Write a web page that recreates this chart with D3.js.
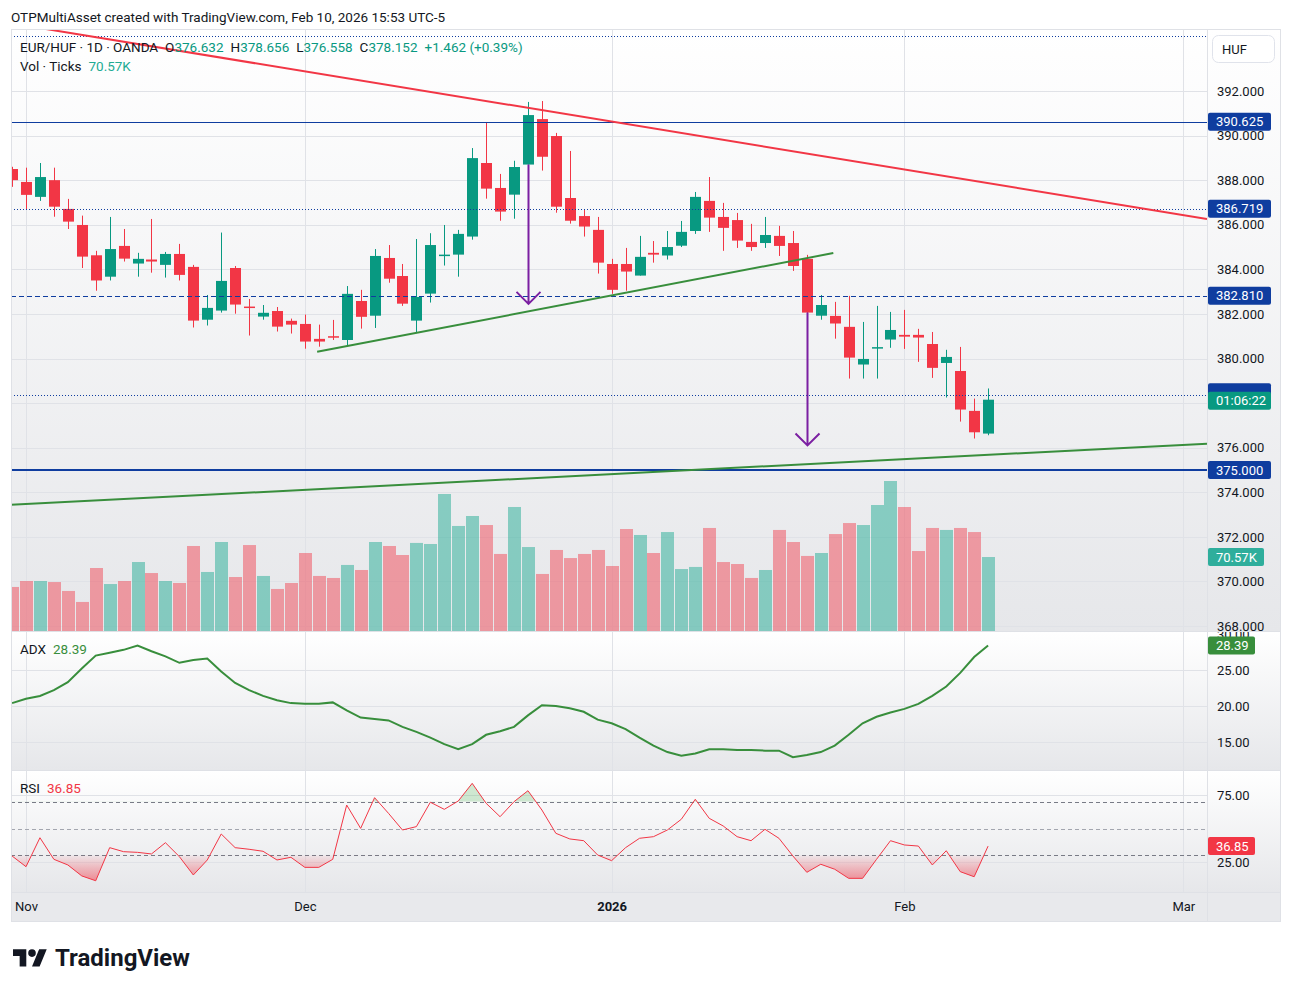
<!DOCTYPE html>
<html>
<head>
<meta charset="utf-8">
<script src="https://cdn.jsdelivr.net/npm/d3@7"></script>
<style>
  body { margin: 0; background: #fff; }
  svg text { font-family: "Trebuchet MS", Roboto, "Noto Sans", sans-serif; fill: #131722; }
</style>
</head>
<body>
<div id="chart"></div>
<script>
// ---- data (EUR/HUF daily, OANDA) ----
const holidays = ['2025-12-25', '2026-01-01'];
const opens = [
  388.50, 387.92, 387.25, 388.00, 386.71, 385.99, 384.63, 383.67, 385.05, 384.26,
  384.44, 384.20, 384.69, 384.11, 381.74, 382.15, 384.06, 382.33, 381.88, 382.13,
  381.69, 381.55, 380.88, 381.00, 380.83, 382.58, 381.92, 384.51, 383.70, 381.70,
  382.91, 384.60, 384.66, 385.47, 388.77, 387.65, 387.35, 388.70, 390.74, 389.98,
  387.20, 386.39, 385.77, 384.24, 384.24, 383.72, 384.74, 384.62, 385.06, 385.72,
  387.07, 386.35, 386.21, 385.23, 385.18, 385.50, 385.18, 384.47, 381.92, 381.91,
  381.42, 379.73, 380.45, 380.85, 381.06, 381.06, 380.65, 379.80, 379.44, 377.65,
  376.632];
const highs = [
  388.60, 388.56, 388.77, 388.56, 387.16, 386.41, 384.83, 386.35, 385.81, 384.74,
  386.26, 384.78, 385.14, 384.20, 382.85, 385.65, 384.15, 382.67, 382.40, 382.31,
  381.79, 381.97, 381.52, 381.73, 383.25, 383.08, 384.91, 385.09, 384.24, 385.36,
  385.62, 385.99, 385.77, 389.44, 390.61, 388.28, 388.87, 391.51, 391.55, 390.12,
  389.31, 386.66, 386.35, 384.47, 384.96, 385.50, 385.27, 385.72, 386.17, 387.47,
  388.14, 386.98, 386.53, 386.04, 386.35, 385.95, 385.72, 384.65, 382.85, 382.54,
  382.81, 381.64, 382.36, 382.09, 382.18, 381.33, 381.19, 380.39, 380.52, 378.20,
  378.656];
const lows = [
  387.70, 386.70, 387.07, 386.36, 385.81, 384.06, 383.04, 383.50, 384.35, 383.67,
  383.85, 383.63, 383.50, 381.39, 381.48, 382.06, 382.01, 381.03, 381.74, 381.21,
  381.12, 380.44, 380.53, 380.83, 380.60, 381.34, 381.37, 383.40, 382.36, 381.14,
  382.51, 384.17, 383.67, 385.33, 387.17, 386.18, 386.27, 388.70, 388.43, 386.54,
  386.05, 385.47, 383.81, 382.90, 383.04, 383.72, 384.30, 384.44, 385.00, 385.59,
  385.68, 384.83, 384.96, 384.83, 384.96, 384.60, 383.93, 381.58, 381.74, 380.89,
  379.10, 379.10, 379.10, 380.48, 380.43, 379.85, 379.13, 378.25, 377.17, 376.41,
  376.558];
const closes = [
  388.00, 387.34, 388.14, 386.81, 386.14, 384.57, 383.50, 384.91, 384.48, 384.47,
  384.35, 384.69, 383.75, 381.70, 382.27, 383.48, 382.42, 382.29, 382.05, 381.43,
  381.52, 380.76, 380.76, 380.95, 382.90, 381.87, 384.60, 383.58, 382.46, 382.76,
  385.09, 384.66, 385.59, 388.99, 387.62, 386.59, 388.59, 390.92, 389.05, 386.81,
  386.18, 385.92, 384.30, 383.08, 383.90, 384.56, 384.66, 385.00, 385.68, 387.25,
  386.32, 385.86, 385.29, 385.00, 385.54, 385.05, 384.15, 382.06, 382.40, 381.57,
  380.04, 379.98, 380.51, 381.28, 380.98, 380.94, 379.58, 380.07, 377.71, 376.69,
  378.152];
// tick volume, thousands
const volumes = [
  42.0, 47.7, 47.7, 46.7, 38.2, 27.7, 60.1, 44.8, 47.7, 65.8,
  55.3, 47.7, 45.8, 81.1, 56.3, 84.9, 51.5, 82.0, 52.5, 40.1,
  45.8, 74.4, 52.5, 50.6, 63.0, 58.2, 84.9, 81.1, 72.5, 84.0,
  83.0, 130.7, 100.2, 109.7, 101.1, 73.5, 118.3, 80.1, 54.4, 77.3,
  69.6, 73.5, 77.3, 62.0, 97.3, 91.6, 74.4, 94.4, 59.1, 61.1,
  98.3, 65.8, 63.9, 50.6, 58.2, 96.4, 84.9, 71.6, 74.4, 92.5,
  103.0, 101.1, 120.2, 143.1, 118.3, 76.3, 98.3, 96.4, 98.3, 94.4,
  70.57];
const adx = [
  20.4, 21.0, 21.4, 22.2, 23.3, 25.2, 27.0, 27.4, 27.8, 28.4,
  27.6, 26.9, 26.0, 26.4, 26.6, 24.8, 23.2, 22.2, 21.4, 20.8,
  20.4, 20.3, 20.3, 20.5, 19.4, 18.4, 18.2, 18.0, 17.1, 16.4,
  15.6, 14.7, 14.0, 14.7, 16.0, 16.5, 17.1, 18.7, 20.1, 20.0,
  19.7, 19.2, 18.1, 17.6, 16.8, 15.6, 14.5, 13.6, 13.1, 13.4,
  14.0, 14.0, 13.9, 13.9, 13.8, 13.8, 12.9, 13.2, 13.6, 14.5,
  16.0, 17.6, 18.5, 19.1, 19.6, 20.3, 21.4, 22.7, 24.6, 26.8,
  28.39];
const rsi = [
  29.5, 21.5, 43.1, 27.0, 22.8, 14.6, 11.0, 35.7, 32.7, 32.2,
  31.0, 39.4, 29.0, 15.3, 26.5, 45.9, 35.7, 34.5, 33.0, 26.5,
  28.5, 21.0, 21.0, 27.0, 67.5, 50.1, 73.0, 61.3, 48.9, 51.4,
  69.6, 64.3, 70.5, 83.7, 68.8, 58.8, 70.0, 78.2, 63.8, 46.4,
  42.2, 40.9, 30.2, 26.0, 35.7, 42.7, 43.9, 48.9, 56.9, 71.8,
  57.6, 51.9, 43.9, 40.9, 49.4, 42.7, 29.5, 17.3, 23.3, 19.6,
  12.8, 12.8, 27.0, 40.9, 37.7, 36.9, 22.8, 33.4, 17.8, 14.0,
  36.85];

const priceTicks = [392, 390, 388, 386, 384, 382, 380, 378, 376, 374, 372, 370, 368];
const adxTicks = [30, 25, 20, 15];
const rsiTicks = [75, 25];
const rsiBands = [70, 50, 30];
const monthDates = ['2025-11-03', '2025-12-01', '2026-01-02', '2026-02-02', '2026-03-02'];
const monthLabels = ['Nov', 'Dec', '2026', 'Feb', 'Mar'];

// drawings: horizontal levels, trend lines (bar position, price), arrows
const hLevels = [394.47, 390.625, 386.719, 382.81, 378.35, 375.0];
const hLabelled = [390.625, 386.719, 382.81, 375.0];
const trendRed = [[-0.1, 395.04], [85.7, 386.26]];
const trendUpper = [[21.88, 380.30], [58.9, 384.73]];
const trendLower = [[-0.08, 373.435], [85.7, 376.18]];
const arrows = [[37, 388.70, 382.45], [57, 382.06, 376.10]];

// ---- layout ----
const W = 1292, H = 992;
const L = 11, R = 1207, AX = 1281;
const main = { top: 29, bottom: 631 };
const adxP = { top: 632, bottom: 770 };
const rsiP = { top: 771, bottom: 892 };
const timeBottom = 922;
const UP = '#089981', DOWN = '#f23645', BLUE = '#0f3d9f';
const FS = 13.5;

const fmtDay = d3.timeFormat('%Y-%m-%d');
const parseDay = d3.timeParse('%Y-%m-%d');
const isTrading = d => d.getDay() % 6 !== 0 && !holidays.includes(fmtDay(d));
const dates = d3.timeDay.range(new Date(2025, 9, 31), new Date(2026, 1, 11)).filter(isTrading);

function barPos(s) {
  const d = parseDay(s);
  const last = dates[dates.length - 1];
  if (d <= last) return d3.bisectLeft(dates, d);
  return dates.length - 1 +
    d3.timeDay.range(d3.timeDay.offset(last, 1), d3.timeDay.offset(d, 1)).filter(isTrading).length;
}

const bars = dates.map((d, i) => ({
  i, o: opens[i], h: highs[i], l: lows[i], c: closes[i], v: volumes[i]
}));

const x = d3.scaleLinear().domain([0, 85.7]).range([12.06, R]);
const y = d3.scaleLinear().domain([368, 392]).range([626, 91]);
const yVol = d3.scaleLinear().domain([0, d3.max(volumes)]).range([main.bottom, main.bottom - 150]);
const yAdx = d3.scaleLinear().domain([15, 25]).range([742, 670]);
const yRsi = d3.scaleLinear().domain([25, 75]).range([862, 795]);

const svg = d3.select('#chart').append('svg')
  .attr('width', W).attr('height', H);

const defs = svg.append('defs');
const grad = defs.append('linearGradient').attr('id', 'paneGrad')
  .attr('x1', 0).attr('y1', 0).attr('x2', 0).attr('y2', 1);
grad.append('stop').attr('offset', 0).attr('stop-color', '#ffffff');
grad.append('stop').attr('offset', 1).attr('stop-color', '#e6e7ea');
const redGrad = defs.append('linearGradient').attr('id', 'osGrad')
  .attr('gradientUnits', 'userSpaceOnUse')
  .attr('x1', 0).attr('y1', yRsi(30)).attr('x2', 0).attr('y2', yRsi(10));
redGrad.append('stop').attr('offset', 0).attr('stop-color', DOWN).attr('stop-opacity', 0.05);
redGrad.append('stop').attr('offset', 1).attr('stop-color', DOWN).attr('stop-opacity', 0.55);

function clip(id, x0, y0, w, h) {
  defs.append('clipPath').attr('id', id).append('rect')
    .attr('x', x0).attr('y', y0).attr('width', w).attr('height', h);
  return `url(#${id})`;
}
const clipMain = clip('cMain', L, main.top, R - L, main.bottom - main.top);
const clipAdx = clip('cAdx', L, adxP.top, R - L, adxP.bottom - adxP.top);
const clipRsi = clip('cRsi', L, rsiP.top, R - L, rsiP.bottom - rsiP.top);
const clipMainAx = clip('cMainAx', R, main.top, AX - R, main.bottom - main.top);
const clipAdxAx = clip('cAdxAx', R, adxP.top, AX - R, adxP.bottom - adxP.top);
const clipOB = clip('cOB', L, rsiP.top, R - L, yRsi(70) - rsiP.top);
const clipOS = clip('cOS', L, yRsi(30), R - L, rsiP.bottom - yRsi(30));

// header
svg.append('text').attr('x', 11).attr('y', 21.5).attr('font-size', FS)
  .text('OTPMultiAsset created with TradingView.com, Feb 10, 2026 15:53 UTC-5');

// pane backgrounds
[main, adxP, rsiP].forEach(p => {
  svg.append('rect').attr('x', L).attr('y', p.top).attr('width', AX - L)
    .attr('height', p.bottom - p.top).attr('fill', 'url(#paneGrad)');
});
svg.append('rect').attr('x', L).attr('y', rsiP.bottom).attr('width', AX - L)
  .attr('height', timeBottom - rsiP.bottom).attr('fill', '#e8e9ec');

// grid
const grid = svg.append('g').attr('stroke', '#e0e2e7').attr('stroke-width', 1);
monthDates.forEach(s => {
  const gx = Math.round(x(barPos(s))) + 0.5;
  grid.append('line').attr('x1', gx).attr('x2', gx).attr('y1', main.top).attr('y2', rsiP.bottom);
});
priceTicks.forEach(p => grid.append('line').attr('x1', L).attr('x2', R)
  .attr('y1', Math.round(y(p)) + 0.5).attr('y2', Math.round(y(p)) + 0.5));
adxTicks.slice(1).forEach(v => grid.append('line').attr('x1', L).attr('x2', R)
  .attr('y1', Math.round(yAdx(v)) + 0.5).attr('y2', Math.round(yAdx(v)) + 0.5));
rsiTicks.forEach(v => grid.append('line').attr('x1', L).attr('x2', R)
  .attr('y1', Math.round(yRsi(v)) + 0.5).attr('y2', Math.round(yRsi(v)) + 0.5));

// ---- main pane ----
const gMain = svg.append('g').attr('clip-path', clipMain);

gMain.append('g').selectAll('rect').data(bars).join('rect')
  .attr('x', d => Math.round(x(d.i)) - 6)
  .attr('width', 13)
  .attr('y', d => yVol(d.v))
  .attr('height', d => main.bottom - yVol(d.v))
  .attr('fill', d => d.c >= d.o ? 'rgba(34,171,148,0.5)' : 'rgba(242,54,69,0.45)');

const candle = gMain.append('g').selectAll('g').data(bars).join('g')
  .attr('fill', d => d.c >= d.o ? UP : DOWN)
  .attr('stroke', d => d.c >= d.o ? UP : DOWN);
candle.append('line')
  .attr('x1', d => Math.round(x(d.i)) + 0.5).attr('x2', d => Math.round(x(d.i)) + 0.5)
  .attr('y1', d => y(d.h)).attr('y2', d => y(d.l));
candle.append('rect')
  .attr('stroke', 'none')
  .attr('x', d => Math.round(x(d.i)) - 5)
  .attr('width', 11)
  .attr('y', d => y(Math.max(d.o, d.c)))
  .attr('height', d => Math.max(1.5, Math.abs(y(d.o) - y(d.c))));

// horizontal levels
const hDash = ['1,2', null, '1,2', '5,3', '1,2', null];
const hWidth = [1, 1, 1, 1, 1, 2];
hLevels.forEach((p, k) => {
  const yy = hWidth[k] === 1 ? Math.round(y(p)) + 0.5 : Math.round(y(p));
  gMain.append('line').attr('x1', L).attr('x2', R).attr('y1', yy).attr('y2', yy)
    .attr('stroke', BLUE).attr('stroke-width', hWidth[k])
    .attr('stroke-dasharray', hDash[k]);
});

// trend lines
const tl = d3.line().x(d => x(d[0])).y(d => y(d[1]));
gMain.append('path').attr('d', tl(trendRed)).attr('stroke', '#f23645')
  .attr('stroke-width', 2).attr('fill', 'none');
[trendUpper, trendLower].forEach(t => gMain.append('path').attr('d', tl(t))
  .attr('stroke', '#388e3c').attr('stroke-width', 2).attr('fill', 'none'));

// arrows
arrows.forEach(([i, p0, p1]) => {
  const ax = Math.round(x(i)) + 0.5;
  gMain.append('path')
    .attr('d', `M${ax},${y(p0)}V${y(p1)}M${ax - 12},${y(p1) - 12}L${ax},${y(p1)}L${ax + 12},${y(p1) - 12}`)
    .attr('stroke', '#7b1fa2').attr('stroke-width', 2).attr('fill', 'none');
});

// legend
const last = bars[bars.length - 1];
const chg = last.c - bars[bars.length - 2].c;
const leg = svg.append('text').attr('x', 20).attr('y', 51.5).attr('font-size', FS);
leg.append('tspan').text('EUR/HUF · 1D · OANDA');
[['O', last.o], ['H', last.h], ['L', last.l], ['C', last.c]].forEach(([k, v]) => {
  leg.append('tspan').attr('dx', 7).text(k);
  leg.append('tspan').attr('fill', UP).text(d3.format('.3f')(v));
});
leg.append('tspan').attr('dx', 7).attr('fill', UP)
  .text(`+${d3.format('.3f')(chg)} (+${d3.format('.2f')(chg / bars[bars.length - 2].c * 100)}%)`);
const leg2 = svg.append('text').attr('x', 20).attr('y', 70.5).attr('font-size', FS);
leg2.append('tspan').text('Vol · Ticks');
leg2.append('tspan').attr('dx', 7).attr('fill', '#22ab94').text(`${last.v}K`);

// ---- ADX pane ----
const gAdx = svg.append('g').attr('clip-path', clipAdx);
gAdx.append('path').datum(bars)
  .attr('d', d3.line().x(d => x(d.i)).y(d => yAdx(adx[d.i])))
  .attr('fill', 'none').attr('stroke', '#388e3c').attr('stroke-width', 2);
const la = svg.append('text').attr('x', 20).attr('y', 653.5).attr('font-size', FS);
la.append('tspan').text('ADX');
la.append('tspan').attr('dx', 7).attr('fill', '#388e3c').text(d3.format('.2f')(adx[adx.length - 1]));

// ---- RSI pane ----
const gRsi = svg.append('g').attr('clip-path', clipRsi);
rsiBands.forEach(v => gRsi.append('line').attr('x1', L).attr('x2', R)
  .attr('y1', Math.round(yRsi(v)) + 0.5).attr('y2', Math.round(yRsi(v)) + 0.5)
  .attr('stroke', v === 50 ? '#a3a6af' : '#787b86').attr('stroke-dasharray', '4,3'));
gRsi.append('path').datum(bars).attr('clip-path', clipOB)
  .attr('d', d3.area().x(d => x(d.i)).y0(yRsi(70)).y1(d => yRsi(rsi[d.i])))
  .attr('fill', 'rgba(76,175,80,0.25)');
gRsi.append('path').datum(bars).attr('clip-path', clipOS)
  .attr('d', d3.area().x(d => x(d.i)).y0(yRsi(30)).y1(d => yRsi(rsi[d.i])))
  .attr('fill', 'url(#osGrad)');
gRsi.append('path').datum(bars)
  .attr('d', d3.line().x(d => x(d.i)).y(d => yRsi(rsi[d.i])))
  .attr('fill', 'none').attr('stroke', '#f23645').attr('stroke-width', 1);
const lr = svg.append('text').attr('x', 20).attr('y', 792.5).attr('font-size', FS);
lr.append('tspan').text('RSI');
lr.append('tspan').attr('dx', 7).attr('fill', '#f23645').text(d3.format('.2f')(rsi[rsi.length - 1]));

// ---- axes ----
function styleAxis(g) {
  g.select('.domain').remove();
  g.selectAll('text').attr('font-size', 13).attr('fill', '#131722')
    .attr('font-family', '"Trebuchet MS", Roboto, sans-serif');
}
svg.append('g').attr('clip-path', clipMainAx)
  .append('g').attr('transform', `translate(${R},0)`)
  .call(d3.axisRight(y).tickValues(priceTicks).tickSize(0).tickPadding(10).tickFormat(d3.format('.3f')))
  .call(styleAxis);
svg.append('g').attr('clip-path', clipAdxAx)
  .append('g').attr('transform', `translate(${R},0)`)
  .call(d3.axisRight(yAdx).tickValues(adxTicks).tickSize(0).tickPadding(10).tickFormat(d3.format('.2f')))
  .call(styleAxis);
svg.append('g').attr('transform', `translate(${R},0)`)
  .call(d3.axisRight(yRsi).tickValues(rsiTicks).tickSize(0).tickPadding(10).tickFormat(d3.format('.2f')))
  .call(styleAxis);
const tAxis = svg.append('g').attr('transform', `translate(0,${rsiP.bottom})`)
  .call(d3.axisBottom(x).tickValues(monthDates.map(barPos)).tickSize(0).tickPadding(10)
    .tickFormat((d, k) => monthLabels[k]))
  .call(styleAxis);
tAxis.selectAll('text').attr('font-weight', (d, k) => monthLabels[k] === '2026' ? 700 : 400);

// price-axis labels
function axisLabel(cy, txt, bg, w, fg) {
  svg.append('rect').attr('x', R + 1).attr('y', cy - 9).attr('width', w).attr('height', 18)
    .attr('rx', 2).attr('fill', bg);
  svg.append('text').attr('x', R + 9).attr('y', cy).attr('dy', '0.35em').attr('font-size', 13)
    .attr('fill', fg || '#fff').style('fill', fg || '#fff').text(txt);
}
hLabelled.forEach(p => axisLabel(y(p), d3.format('.3f')(p), BLUE, 63));
axisLabel(y(hLevels[4]) - 3, '', BLUE, 63);
axisLabel(y(last.c) + 1, '01:06:22', UP, 63);
axisLabel(yVol(last.v), `${last.v}K`, '#2fae9c', 56);
axisLabel(yAdx(adx[adx.length - 1]), d3.format('.2f')(adx[adx.length - 1]), '#388e3c', 47);
axisLabel(yRsi(rsi[rsi.length - 1]), d3.format('.2f')(rsi[rsi.length - 1]), '#f23645', 47);

// currency button
svg.append('rect').attr('x', 1212.5).attr('y', 35.5).attr('width', 62).attr('height', 27)
  .attr('rx', 6).attr('fill', '#fff').attr('stroke', '#e0e3eb');
svg.append('text').attr('x', 1222).attr('y', 49).attr('dy', '0.35em').attr('font-size', 13).text('HUF');

// separators and frame
const sep = svg.append('g').attr('stroke', '#dfe1e6').attr('fill', 'none');
[main.bottom, adxP.bottom, rsiP.bottom].forEach(v =>
  sep.append('line').attr('x1', L).attr('x2', AX).attr('y1', v + 0.5).attr('y2', v + 0.5));
sep.append('line').attr('x1', R + 0.5).attr('x2', R + 0.5).attr('y1', main.top).attr('y2', timeBottom);
sep.append('rect').attr('x', L + 0.5).attr('y', main.top + 0.5)
  .attr('width', AX - L - 1).attr('height', timeBottom - main.top - 1);

// TradingView logo
const logo = svg.append('g').attr('transform', 'translate(13,945.5) scale(0.95)').attr('fill', '#131722');
logo.append('path').attr('d', 'M14 22H7V11H0V4h14v18zM28 22h-8l7.5-18h8L28 22z');
logo.append('circle').attr('cx', 20).attr('cy', 8).attr('r', 4);
svg.append('text').attr('x', 55).attr('y', 966).attr('font-size', 24).attr('font-weight', 700)
  .text('TradingView');
</script>
</body>
</html>
